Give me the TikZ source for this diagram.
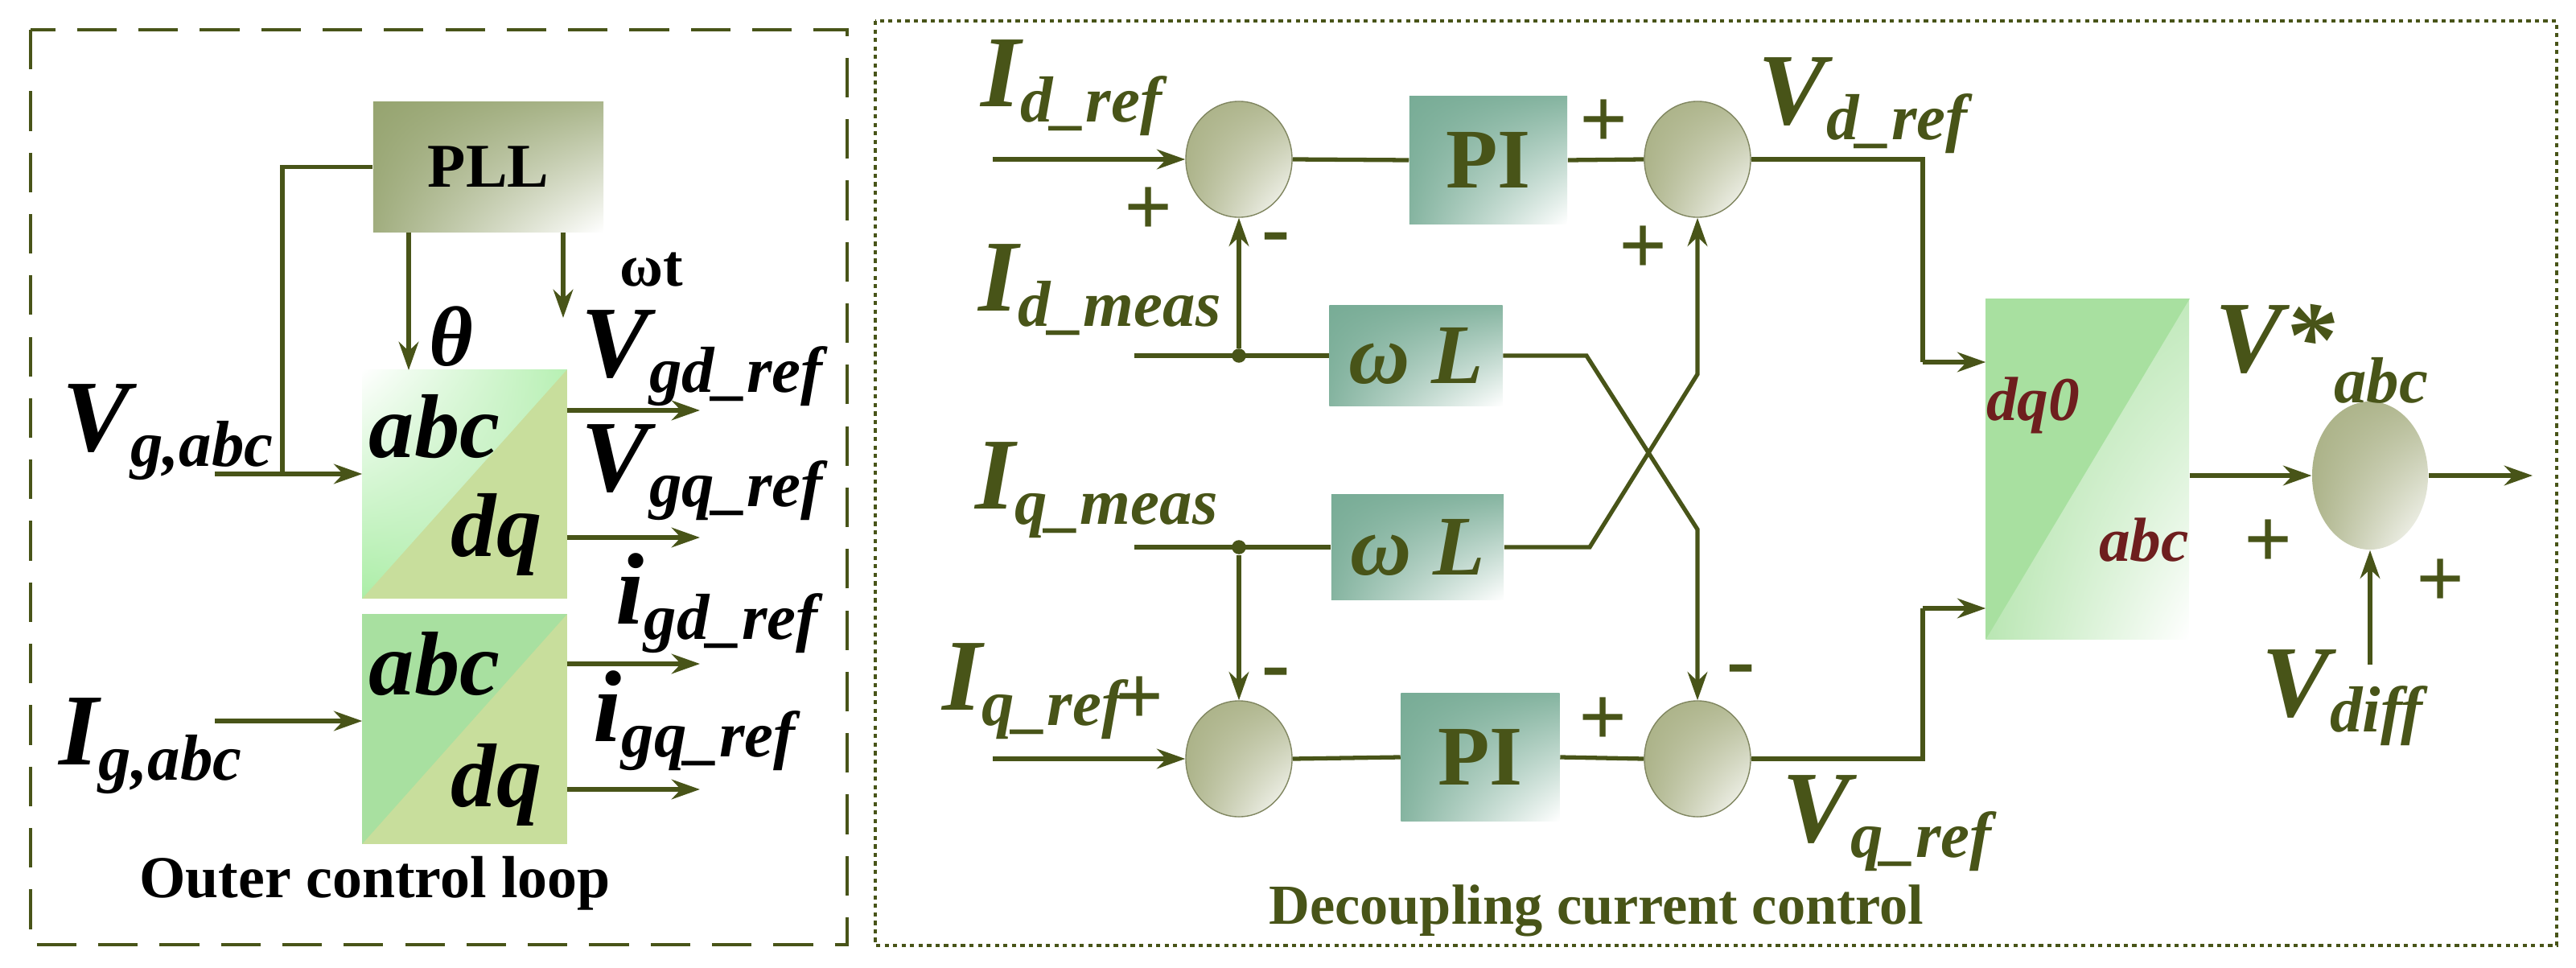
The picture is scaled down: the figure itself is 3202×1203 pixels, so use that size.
\documentclass[tikz,border=0pt]{standalone}
\usepackage{fontspec}
\setmainfont{Liberation Serif}
\usetikzlibrary{shapes.geometric,arrows.meta,shadings}
\definecolor{olv}{RGB}{72,84,24}
\definecolor{sumc}{RGB}{160,168,120}
\definecolor{tealc}{RGB}{120,172,150}
\definecolor{lgreen}{RGB}{200,222,156}
\definecolor{mgreen}{RGB}{168,224,160}
\definecolor{pllc}{RGB}{150,164,112}
\definecolor{dred}{RGB}{110,30,30}
\newcommand\lbl[2]{{\fontsize{36}{36}\selectfont\bfseries\itshape #1}{\fontsize{23}{23}\selectfont\bfseries\itshape\raisebox{-5.5pt}{#2}}}
\newcommand\fs[1]{\fontsize{#1}{#1}\selectfont}
\begin{document}
\begin{tikzpicture}[x=0.01cm,y=-0.01cm,
 ln/.style={draw=olv,line width=1.5pt},
 arr/.style={ln,-{Stealth[length=10pt,width=7pt]}},
 sum/.style={ellipse,minimum width=1.32cm,minimum height=1.44cm,inner sep=0pt,
   upper left=sumc!90!white,upper right=sumc!80!white,lower left=sumc!85!white,lower right=white,draw=sumc!80!black,line width=0.4pt},
 blk/.style={rectangle,inner sep=0pt,text=olv,font=\fs{30}\bfseries,
   upper left=tealc,upper right=tealc!90!white,lower left=tealc!90!white,lower right=white},
 pm/.style={text=olv,font=\fs{30}\bfseries,inner sep=0pt},
 lab/.style={anchor=base west,inner sep=0pt},
 dot/.style={circle,fill=olv,inner sep=0pt,minimum size=5pt}]
\useasboundingbox (0,0) rectangle (3202,1203);
% ---------- left panel ----------
\draw[olv,line width=1.2pt,dash pattern=on 14pt off 7.7pt] (38,37) rectangle (1053,1174);
\node[rectangle,minimum width=2.86cm,minimum height=1.61cm,inner sep=0pt,
  upper left=pllc,upper right=pllc!80!white,lower left=pllc!90!white,lower right=white,font=\fs{22}\bfseries] (pll) at (607,207.5) {PLL};
\node[minimum width=2.53cm,minimum height=2.83cm,inner sep=0pt] (c1) at (577.5,601.5) {};
\node[minimum width=2.53cm,minimum height=2.84cm,inner sep=0pt] (c2) at (577.5,906) {};
\fill[lgreen] (c1.north west) rectangle (c1.south east);
\shade[upper left=white,upper right=mgreen!80!green!60!white,lower left=mgreen!80!green!70!white,lower right=mgreen!60!white] (c1.north west) -- (c1.north east) -- (c1.south west) -- cycle;
\fill[lgreen] (c2.north west) rectangle (c2.south east);
\fill[mgreen] (c2.north west) -- (c2.north east) -- (c2.south west) -- cycle;
\node[font=\fs{32}\bfseries\itshape] (a1) at (540,530) {abc};
\node[font=\fs{32}\bfseries\itshape] (d1) at (617,664) {dq};
\node[font=\fs{32}\bfseries\itshape] (a2) at (540,825) {abc};
\node[font=\fs{32}\bfseries\itshape] (d2) at (617,975) {dq};
\coordinate (vgin) at (267,589);
\coordinate (vj) at (351,589);
\draw[arr] (vgin) -- (vgin -| c1.west);
\draw[ln] (vj) -- (vj |- pll.west) -- (pll.west);
\coordinate (th) at (508,460);
\draw[arr] (th |- pll.south) -- (th);
\coordinate (wt) at (700,395);
\draw[arr] (wt |- pll.south) -- (wt);
\node[font=\fs{30}\bfseries\itshape] (thl) at (561,418) {θ};
\node[font=\fs{21}\bfseries] (wtl) at (810,335) {ωt};
\foreach \y/\n in {510/o1,668/o2}{\coordinate (\n) at (870,\y); \draw[arr] (\n -| c1.east) -- (\n);}
\foreach \y/\n in {825/o3,981/o4}{\coordinate (\n) at (870,\y); \draw[arr] (\n -| c2.east) -- (\n);}
\coordinate (igin) at (267,896);
\draw[arr] (igin) -- (igin -| c2.west);
\node[lab] (vgd) at (722,468) {\lbl{V}{gd\_ref}};
\node[lab] (vgq) at (722,610) {\lbl{V}{gq\_ref}};
\node[lab] (igd) at (765,775) {\lbl{i}{gd\_ref}};
\node[lab] (igq) at (737,921) {\lbl{i}{gq\_ref}};
\node[lab] (vg) at (77,560) {\lbl{V}{g,abc}};
\node[lab] (ig) at (73,950) {\lbl{I}{g,abc}};
\node[font=\fs{21}\bfseries] (t1) at (466,1098) {Outer control loop};
% ---------- right panel ----------
\draw[olv,line width=1pt,dash pattern=on 1.5pt off 1.5pt] (1088,26) rectangle (3178,1175);
\begin{scope}[every node/.append style={text=olv}]
\node[sum] (s1) at (1540,198) {};
\node[sum] (s2) at (2110,198) {};
\node[sum] (s3) at (1540,943) {};
\node[sum] (s4) at (2110,943) {};
\node[blk,minimum width=1.96cm,minimum height=1.58cm] (pi1) at (1850,199) {PI};
\node[blk,minimum width=1.97cm,minimum height=1.58cm] (pi2) at (1840,941) {PI};
\node[blk,minimum width=2.15cm,minimum height=1.25cm,font=\fs{30}\bfseries\itshape] (wl1) at (1760,442) {ω L};
\node[blk,minimum width=2.14cm,minimum height=1.31cm,font=\fs{30}\bfseries\itshape] (wl2) at (1762,680) {ω L};
\node[rectangle,minimum width=2.52cm,minimum height=4.22cm,inner sep=0pt,
  upper left=mgreen!90!white,upper right=mgreen!70!white,lower left=mgreen!80!white,lower right=white] (dq) at (2595,583) {};
\fill[mgreen] (dq.north west) -- (dq.north east) -- (dq.south west) -- cycle;
\node[font=\fs{22}\bfseries\itshape,text=dred] (dq0) at (2527,504) {dq0};
\node[font=\fs{22}\bfseries\itshape,text=dred] (abc3) at (2665,671) {abc};
\node[ellipse,minimum width=1.44cm,minimum height=1.84cm,inner sep=0pt,
  upper left=sumc!90!white,upper right=sumc!80!white,lower left=sumc!85!white,lower right=white] (s5) at (2946,591) {};
% connectors
\coordinate (idr) at (1234,198);
\draw[arr] (idr) -- (s1.west);
\draw[ln] (s1.east) -- (pi1.west);
\draw[ln] (pi1.east) -- (s2.west);
\coordinate (rv) at (2390,450);
\coordinate (rv2) at (2390,756);
\draw[ln] (s2.east) -- (s2.east -| rv) -- (rv);
\draw[arr] (rv) -- (rv -| dq.west);
\draw[ln] (s3.east) -- (pi2.west);
\draw[ln] (pi2.east) -- (s4.west);
\draw[ln] (s4.east) -- (s4.east -| rv2) -- (rv2);
\draw[arr] (rv2) -- (rv2 -| dq.west);
\coordinate (idm) at (1410,442);
\coordinate (j1) at (1540,442);
\draw[ln] (idm) -- (wl1.west);
\node[dot] (dj1) at (j1) {};
\draw[arr] (dj1) -- (s1.south);
\coordinate (iqm) at (1410,680);
\coordinate (j2) at (1540,680);
\draw[ln] (iqm) -- (wl2.west);
\node[dot] (dj2) at (j2) {};
\draw[arr] (dj2) -- (s3.north);
\coordinate (iqr) at (1234,943);
\draw[arr] (iqr) -- (s3.west);
\coordinate (k1) at (1972,442);
\coordinate (k2) at (2110,658);
\draw[arr] (wl1.east) -- (k1) -- (k2) -- (s4.north);
\coordinate (k3) at (1976,680);
\coordinate (k4) at (2110,465);
\draw[arr] (wl2.east) -- (k3) -- (k4) -- (s2.south);
\draw[arr] (dq.east |- s5.west) -- (s5.west);
\coordinate (out) at (3148,591);
\draw[arr] (s5.east) -- (out);
\coordinate (vdf) at (2946,826);
\draw[arr] (vdf) -- (s5.south);
% signs
\node[pm] (p1) at (1428,263) {+};
\node[pm] (m1) at (1586,304) {-};
\node[pm] (p2) at (1417,871) {+};
\node[pm] (m2) at (1586,845) {-};
\node[pm] (p3) at (1994,154) {+};
\node[pm] (p4) at (2043,311) {+};
\node[pm] (m3) at (2164,841) {-};
\node[pm] (p5) at (1993,897) {+};
\node[pm] (p6) at (2820,676) {+};
\node[pm] (p7) at (3034,725) {+};
% labels
\node[lab] (l1) at (1219,132) {\lbl{I}{d\_ref}};
\node[lab] (l2) at (1216,386) {\lbl{I}{d\_meas}};
\node[lab] (l3) at (1212,632) {\lbl{I}{q\_meas}};
\node[lab] (l4) at (1171,882) {\lbl{I}{q\_ref}};
\node[lab] (l5) at (2185,154) {\lbl{V}{d\_ref}};
\node[lab] (l6) at (2215,1046) {\lbl{V}{q\_ref}};
\node[lab] (l7) at (2753,462) {{\fs{36}\bfseries\itshape V*}{\fs{23}\bfseries\itshape\raisebox{-11pt}{abc}}};
\node[lab] (l8) at (2811,890) {\lbl{V}{diff}};
\node[font=\fs{20}\bfseries,anchor=west] (t2) at (1565,1132) {Decoupling current control};
\end{scope}
\end{tikzpicture}
\end{document}
